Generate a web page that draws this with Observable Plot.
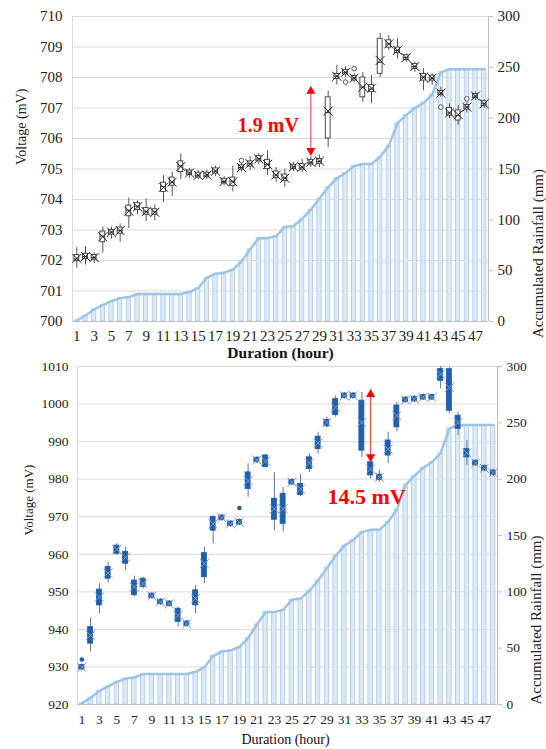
<!DOCTYPE html>
<html><head><meta charset="utf-8">
<script src="https://cdn.jsdelivr.net/npm/d3@7"></script>
<script src="https://cdn.jsdelivr.net/npm/@observablehq/plot@0.6"></script>
<style>
body{margin:0;background:#fff;}
#wrap{position:relative;width:546px;height:749px;overflow:hidden;}
#top,#bot{position:absolute;left:0;}
#top{top:0px}
#bot{top:350px}
</style></head><body><div id="wrap"><div id="top"></div><div id="bot"></div></div>
<script>
const hours = d3.range(1, 49);
const hourTicks = d3.range(1, 49, 2);
const rainfall = [1,6,12,16,20,23,24,27,27,27,27,27,27,29,33,43,47,48,51,59,71,82,82,84,93,94,101,110,121,132,141,146,153,155,155,162,173,195,203,210,215,223,245,248,248,248,248,248];
const rainTicks = [0,50,100,150,200,250,300];

// Panel 1 voltage box statistics (mV)
const topMin = [701.75,701.85,701.9,702.25,702.7,702.6,703.05,703.5,703.28,703.3,703.9,704.1,704.65,704.7,704.65,704.65,704.75,704.45,704.25,704.9,704.95,705.15,704.8,704.55,704.4,704.92,704.88,705.05,705.05,705.7,707.75,708.0,707.82,707.19,707.14,708.0,708.89,708.61,708.5,708.17,707.57,707.74,707.35,706.65,706.43,706.84,707.25,706.99];
const topQ1 = [701.98,702.05,702.03,702.6,702.85,702.88,703.45,703.65,703.5,703.5,704.25,704.45,704.9,704.8,704.72,704.73,704.85,704.53,704.45,704.98,705.08,705.25,705.0,704.7,704.6,705.0,704.98,705.15,705.17,706.0,707.95,708.1,707.9,707.35,707.52,708.12,708.98,708.8,708.57,708.28,707.9,707.9,707.42,706.75,706.59,706.95,707.32,707.06];
const topMed = [702.05,702.13,702.1,702.8,702.93,702.98,703.65,703.78,703.6,703.6,704.42,704.57,705.1,704.87,704.79,704.8,704.93,704.59,704.6,705.05,705.17,705.33,705.15,704.8,704.7,705.07,705.06,705.22,705.25,706.85,708.04,708.17,707.98,707.68,707.62,708.5,709.1,708.89,708.65,708.36,708.01,707.98,707.49,706.84,706.75,707.03,707.39,707.14];
const topQ3 = [702.18,702.22,702.18,702.95,703.0,703.08,703.8,703.88,703.72,703.68,704.55,704.72,705.25,704.95,704.88,704.88,705.02,704.68,704.72,705.12,705.25,705.42,705.3,704.92,704.82,705.14,705.16,705.3,705.33,707.35,708.12,708.25,708.05,708.0,707.75,709.27,709.22,708.98,708.73,708.44,708.12,708.06,707.56,707.0,706.92,707.1,707.46,707.22];
const topMax = [702.42,702.45,702.25,703.1,703.1,703.2,704.05,703.95,704.02,703.82,704.78,704.9,705.5,705.02,704.95,704.97,705.1,704.75,705.1,705.18,705.4,705.5,705.6,705.05,705.0,705.22,705.32,705.4,705.45,707.55,708.4,708.35,708.12,708.17,708.07,709.44,709.38,709.27,708.78,708.5,708.29,708.12,707.68,707.14,707.08,707.17,707.52,707.28];
const topMean = [702.07,702.13,702.1,702.78,702.93,702.98,703.62,703.76,703.6,703.58,704.4,704.57,705.08,704.87,704.79,704.8,704.93,704.59,704.58,705.05,705.17,705.33,705.15,704.8,704.7,705.07,705.06,705.22,705.26,706.9,708.04,708.17,707.98,707.68,707.65,708.56,709.1,708.89,708.65,708.36,708.01,707.98,707.49,706.84,706.78,707.03,707.39,707.14];
const topOutHour = [20,32,33,43,46];
const topOutVal = [705.28,707.85,708.29,707.03,707.3];
const topTicks = d3.range(700, 711, 1);

// Panel 2 voltage box statistics (mV)
const botMin = [929.0,934.0,944.2,952.3,959.8,955.7,948.6,950.8,948.0,946.4,945.9,940.6,940.6,944.2,952.2,962.8,968.8,967.2,967.6,975.2,984.2,983.0,966.3,965.9,978.3,975.3,981.8,986.7,993.6,996.5,1001.3,1001.3,985.8,980.1,979.2,984.1,992.6,1000.2,1000.4,1000.9,1000.9,1004.0,997.4,991.6,983.6,983.4,982.0,980.8];
const botQ1 = [929.3,936.2,946.4,953.5,960.1,957.5,949.1,951.3,948.3,946.7,946.2,942.0,940.9,946.4,953.9,966.3,969.1,967.5,967.9,977.4,984.5,983.2,969.2,968.1,978.6,975.8,982.7,988.0,994.1,997.1,1001.6,1001.6,987.6,981.0,979.8,986.3,993.8,1000.5,1000.7,1001.2,1001.2,1006.2,998.2,993.4,985.8,983.7,982.3,981.1];
const botMed = [929.9,938.4,948.6,955.0,961.3,959.2,951.3,952.2,948.9,947.3,946.8,943.7,941.5,948.2,957.5,968.1,969.7,968.1,968.5,979.6,985.1,984.8,972.1,972.1,979.2,977.4,984.3,989.6,995.1,999.1,1002.2,1002.2,995.1,982.7,980.5,988.0,996.9,1001.1,1001.3,1001.8,1001.8,1008.0,1004.4,995.1,987.0,984.3,982.9,981.7];
const botQ3 = [930.5,940.6,950.6,956.6,962.3,960.6,953.0,953.5,949.5,947.9,947.4,945.5,942.1,950.4,960.3,969.9,970.3,968.7,969.1,981.8,985.7,986.3,974.8,976.1,979.8,978.7,985.8,991.3,995.8,1001.3,1002.8,1002.8,1000.9,984.5,981.2,990.3,999.6,1001.7,1001.9,1002.4,1002.4,1009.3,1009.3,996.9,988.0,984.9,983.5,982.3];
const botMax = [930.8,943.1,952.2,957.9,962.8,961.9,954.2,953.9,949.8,948.2,947.7,945.9,942.4,951.7,961.9,970.3,970.6,969.0,969.4,984.1,986.0,986.6,981.8,977.8,980.1,981.4,986.7,992.5,996.5,1002.2,1003.1,1003.1,1003.1,985.4,982.3,992.5,1000.4,1002.0,1002.2,1002.7,1002.7,1010.0,1009.7,997.8,990.3,985.2,983.8,982.6];
const botMean = botMed;
const botOutHour = [1,19];
const botOutVal = [932.0,972.3];
const botTicks = d3.range(920, 1011, 10);

// annotations
const topNote = {hour: 28, from: 707.55, to: 705.6, text: "1.9 mV", textV: 706.42};
const botNote = {hour: 34, from: 1002.6, to: 985.9, text: "14.5 mV", textV: 975.3};

const FONT = "'Liberation Serif', 'Times New Roman', serif";

function panel(cfg) {
  const {vMin, vMax, vTicks, mins, q1s, meds, q3s, maxs, means, outH, outV, note,
         ml, mr, mt, mb, h, boxFill, boxStroke, whisker, xStroke, xR, outFill, outStroke,
         boxInset, noteSize, noteAnchor, noteDx, tickFont, xPad, lPad,
         yl, rl, xl} = cfg;
  const W = 546;
  const k = (vMax - vMin) / 300;
  const bw = (W - ml - mr) / hours.length;
  const rain = hours.map((hh, i) => ({hour: hh, r: rainfall[i]}));
  const boxes = hours.map((hh, i) => ({hour: hh, min: mins[i], q1: q1s[i], med: meds[i], q3: q3s[i], max: maxs[i], mean: means[i]}));
  const outs = outH.map((hh, i) => ({hour: hh, v: outV[i]}));
  return Plot.plot({
    width: W, height: h,
    marginLeft: ml, marginRight: mr, marginTop: mt, marginBottom: mb,
    style: {fontFamily: FONT, fontSize: tickFont + "px", color: "#222", background: "transparent", overflow: "visible"},
    x: {type: "band", domain: hours, padding: 0},
    y: {domain: [vMin, vMax]},
    marks: [
      Plot.gridY(vTicks, {stroke: "#d9d9d9", strokeOpacity: 1}),
      Plot.barY(rain, {x: "hour", y1: () => vMin, y2: d => vMin + d.r * k, fill: "#dde9f7", stroke: "#a6c8ea", strokeWidth: 0.8, insetLeft: 2.2, insetRight: 2.2}),
      Plot.line(rain, {x: "hour", y: d => vMin + d.r * k, stroke: "#9dc3e6", strokeWidth: 2.5, curve: "linear"}),
      Plot.ruleY([vMin], {stroke: "#bfbfbf"}),
      Plot.ruleX([hours[0]], {dx: -bw / 2, stroke: "#d9d9d9"}),
      Plot.ruleX([hours[hours.length - 1]], {dx: bw / 2, stroke: "#bfbfbf"}),
      Plot.ruleX(boxes, {x: "hour", y1: "min", y2: "max", stroke: whisker, strokeWidth: 1}),
      Plot.barY(boxes, {x: "hour", y1: "q1", y2: "q3", fill: boxFill, stroke: boxStroke, strokeWidth: 0.9, insetLeft: boxInset, insetRight: boxInset}),
      Plot.tickY(boxes, {x: "hour", y: "med", stroke: boxStroke, strokeWidth: 1, insetLeft: boxInset, insetRight: boxInset}),
      Plot.dot(boxes, {x: "hour", y: "mean", symbol: "times", r: xR, stroke: xStroke, strokeWidth: 1}),
      Plot.dot(outs, {x: "hour", y: "v", r: 2.3, fill: outFill, stroke: outStroke, strokeWidth: 0.9}),
      Plot.ruleX([note], {x: "hour", y1: "to", y2: "from", stroke: "#ff3030", strokeWidth: 1}),
      Plot.dot([note], {x: "hour", y: "from", symbol: "triangle", r: 3.4, fill: "#ff0000"}),
      Plot.dot([note], {x: "hour", y: "to", symbol: "triangle", r: 3.4, fill: "#ff0000", rotate: 180}),
      Plot.text([note], {x: "hour", y: "textV", text: "text", fill: "#ff0000", fontWeight: "bold", fontSize: noteSize, textAnchor: noteAnchor, dx: noteDx}),
      Plot.axisY(vTicks, {anchor: "left", tickSize: 0, tickPadding: lPad, tickFormat: d3.format("d"), label: null}),
      Plot.axisY(rainTicks.map(r => vMin + r * k), {anchor: "right", tickSize: 4, tickPadding: 5, stroke: "#bfbfbf", tickFormat: d => String(Math.round((d - vMin) / k)), label: null}),
      Plot.axisX(hourTicks, {tickSize: 0, tickPadding: xPad, label: null}),
      Plot.text(["Voltage (mV)"], {text: d => d, frameAnchor: "left", rotate: -90, dx: yl.dx, dy: yl.dy, fontSize: yl.size, fill: "#222"}),
      Plot.text(["Accumulated Rainfall (mm)"], {text: d => d, frameAnchor: "right", rotate: -90, dx: rl.dx, dy: rl.dy, fontSize: rl.size, fill: "#222"}),
      Plot.text(["Duration (hour)"], {text: d => d, frameAnchor: "bottom", dx: xl.dx, dy: xl.dy, fontSize: xl.size, fontWeight: xl.weight, fill: "#111"})
    ]
  });
}

document.getElementById("top").append(panel({
  vMin: 700, vMax: 710, vTicks: topTicks,
  mins: topMin, q1s: topQ1, meds: topMed, q3s: topQ3, maxs: topMax, means: topMean,
  outH: topOutHour, outV: topOutVal, note: topNote,
  ml: 72, mr: 58, mt: 16, mb: 47, h: 368,
  boxFill: "#ffffff", boxStroke: "#3a3a3a", whisker: "#555555", xStroke: "#222222", xR: 4.2,
  outFill: "#ffffff", outStroke: "#444444", boxInset: 1.9,
  noteSize: 20, noteAnchor: "end", noteDx: -12, tickFont: 15, xPad: 9, lPad: 10,
  yl: {dx: -51, dy: -4, size: 14}, rl: {dx: 50, dy: 0, size: 15}, xl: {dx: 0, dy: 36, size: 15.5, weight: "bold"}
}));

document.getElementById("bot").append(panel({
  vMin: 920, vMax: 1010, vTicks: botTicks,
  mins: botMin, q1s: botQ1, meds: botMed, q3s: botQ3, maxs: botMax, means: botMean,
  outH: botOutHour, outV: botOutVal, note: botNote,
  ml: 77, mr: 49, mt: 16, mb: 45, h: 399,
  boxFill: "#1f5fae", boxStroke: "#1f5fae", whisker: "#5876a3", xStroke: "#7f98bd", xR: 4.2,
  outFill: "#1f5fae", outStroke: "none", boxInset: 1.9,
  noteSize: 22, noteAnchor: "middle", noteDx: -4, tickFont: 13.5, xPad: 10, lPad: 9,
  yl: {dx: -49, dy: 0, size: 13}, rl: {dx: 39, dy: 0, size: 15}, xl: {dx: -2, dy: 39, size: 14, weight: "normal"}
}));
</script></body></html>
